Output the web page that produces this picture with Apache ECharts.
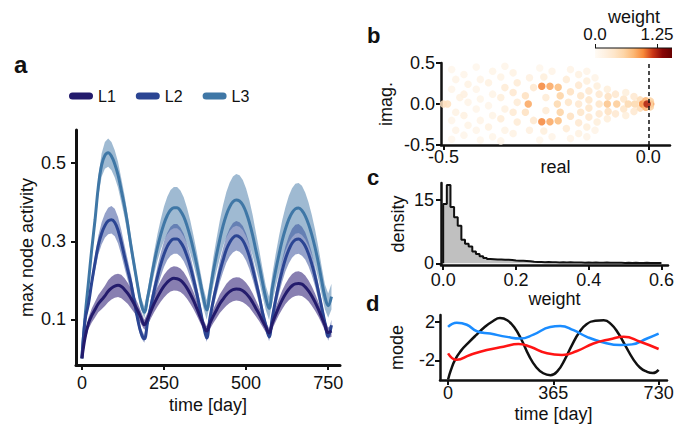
<!DOCTYPE html>
<html lang="en">
<head>
  <meta charset="UTF-8">
  <script src="https://cdn.jsdelivr.net/npm/echarts@6/dist/echarts.min.js"></script>
  <style>
    html, body { margin: 0; padding: 0; background: #fff; }
    #container { width: 697px; height: 428px; }
  </style>
</head>
<body>
  <div id="container"></div>
  <script>
    // ---- panel a : max node activity per layer (mean and half band width) ----
    var days = [0, 10, 20, 30, 40, 50, 60, 70, 80, 90, 100, 110, 120, 130, 140, 150, 160, 170, 180, 190,
      200, 210, 220, 230, 240, 250, 260, 270, 280, 290, 300, 310, 320, 330, 340, 350, 360, 370, 380,
      390, 400, 410, 420, 430, 440, 450, 460, 470, 480, 490, 500, 510, 520, 530, 540, 550, 560, 570,
      580, 590, 600, 610, 620, 630, 640, 650, 660, 670, 680, 690, 700, 710, 720, 730, 740, 750, 760];

    var l1Mean = [0, 0.055, 0.09, 0.11, 0.125, 0.14, 0.15, 0.16, 0.172, 0.18, 0.185, 0.187, 0.184, 0.176, 0.166, 0.153, 0.138, 0.122, 0.104, 0.086,
      0.101, 0.121, 0.14, 0.157, 0.172, 0.185, 0.195, 0.202, 0.205, 0.204, 0.2, 0.192, 0.18, 0.165, 0.148, 0.128, 0.107, 0.086, 0.07,
      0.09, 0.108, 0.124, 0.14, 0.152, 0.163, 0.171, 0.176, 0.178, 0.177, 0.173, 0.166, 0.156, 0.143, 0.128, 0.113, 0.096, 0.08, 0.065,
      0.09, 0.112, 0.132, 0.15, 0.165, 0.177, 0.186, 0.191, 0.192, 0.19, 0.183, 0.173, 0.16, 0.144, 0.126, 0.106, 0.085, 0.066, 0.07];
    var l1Half = [0, 0.01, 0.015, 0.018, 0.02, 0.022, 0.024, 0.026, 0.028, 0.029, 0.03, 0.03, 0.03, 0.029, 0.027, 0.025, 0.022, 0.019, 0.016, 0.013,
      0.016, 0.019, 0.022, 0.025, 0.027, 0.029, 0.03, 0.031, 0.031, 0.031, 0.03, 0.029, 0.027, 0.025, 0.022, 0.019, 0.016, 0.013, 0.012,
      0.015, 0.018, 0.021, 0.024, 0.026, 0.028, 0.029, 0.03, 0.03, 0.03, 0.029, 0.028, 0.026, 0.024, 0.021, 0.018, 0.015, 0.013, 0.012,
      0.015, 0.018, 0.021, 0.024, 0.026, 0.028, 0.03, 0.031, 0.031, 0.03, 0.029, 0.027, 0.025, 0.022, 0.019, 0.016, 0.014, 0.013, 0.015];

    var l2Mean = [0, 0.1, 0.14, 0.195, 0.245, 0.29, 0.32, 0.34, 0.352, 0.355, 0.348, 0.328, 0.297, 0.26, 0.225, 0.19, 0.145, 0.1, 0.065, 0.05,
      0.093, 0.134, 0.173, 0.209, 0.24, 0.267, 0.287, 0.3, 0.306, 0.306, 0.298, 0.284, 0.262, 0.235, 0.202, 0.166, 0.126, 0.085, 0.052,
      0.104, 0.148, 0.186, 0.222, 0.252, 0.279, 0.297, 0.309, 0.314, 0.311, 0.302, 0.285, 0.261, 0.23, 0.195, 0.159, 0.118, 0.085, 0.055,
      0.105, 0.15, 0.19, 0.225, 0.255, 0.278, 0.295, 0.304, 0.306, 0.3, 0.288, 0.268, 0.242, 0.21, 0.172, 0.132, 0.092, 0.056, 0.085];
    var l2Half = [0, 0.008, 0.012, 0.016, 0.02, 0.024, 0.028, 0.031, 0.034, 0.035, 0.035, 0.034, 0.032, 0.029, 0.026, 0.022, 0.018, 0.015, 0.012, 0.01,
      0.014, 0.018, 0.022, 0.026, 0.03, 0.033, 0.035, 0.037, 0.038, 0.038, 0.037, 0.035, 0.032, 0.029, 0.025, 0.021, 0.017, 0.013, 0.01,
      0.014, 0.019, 0.023, 0.027, 0.031, 0.034, 0.036, 0.038, 0.038, 0.038, 0.037, 0.035, 0.032, 0.028, 0.024, 0.02, 0.016, 0.012, 0.011,
      0.016, 0.021, 0.025, 0.029, 0.032, 0.035, 0.037, 0.038, 0.038, 0.037, 0.035, 0.032, 0.029, 0.025, 0.021, 0.017, 0.013, 0.011, 0.014];

    var l3Mean = [0, 0.11, 0.195, 0.28, 0.355, 0.44, 0.495, 0.52, 0.527, 0.518, 0.498, 0.47, 0.43, 0.389, 0.34, 0.285, 0.235, 0.185, 0.141, 0.118,
      0.155, 0.2, 0.245, 0.284, 0.317, 0.345, 0.366, 0.38, 0.386, 0.386, 0.378, 0.363, 0.34, 0.311, 0.277, 0.239, 0.197, 0.155, 0.124,
      0.17, 0.222, 0.265, 0.305, 0.34, 0.368, 0.388, 0.401, 0.406, 0.403, 0.393, 0.374, 0.348, 0.315, 0.276, 0.238, 0.195, 0.155, 0.128,
      0.18, 0.225, 0.265, 0.302, 0.332, 0.356, 0.373, 0.383, 0.385, 0.379, 0.365, 0.344, 0.317, 0.284, 0.245, 0.2, 0.158, 0.135, 0.158];
    var l3Half = [0, 0.008, 0.012, 0.016, 0.02, 0.025, 0.03, 0.034, 0.036, 0.036, 0.035, 0.033, 0.031, 0.028, 0.025, 0.022, 0.019, 0.017, 0.015, 0.015,
      0.019, 0.024, 0.029, 0.034, 0.039, 0.044, 0.048, 0.051, 0.053, 0.053, 0.052, 0.05, 0.046, 0.042, 0.037, 0.033, 0.029, 0.026, 0.025,
      0.03, 0.036, 0.042, 0.048, 0.053, 0.058, 0.062, 0.065, 0.066, 0.066, 0.064, 0.061, 0.057, 0.052, 0.046, 0.04, 0.035, 0.031, 0.03,
      0.036, 0.042, 0.047, 0.052, 0.056, 0.06, 0.063, 0.064, 0.064, 0.063, 0.06, 0.056, 0.051, 0.046, 0.041, 0.036, 0.032, 0.031, 0.033];

    var aXTicks = [0, 250, 500, 750];
    var aYTicks = [0.1, 0.3, 0.5];

    // ---- panel b : eigenvalues [real, imag, weight] ----
    var eigPoints = [
      [-0.5, 0, 0.45], [-0.49, 0, 0.45],
      [-0.48, 0.42, 0.1], [-0.47, 0.3, 0.15], [-0.48, 0.18, 0.12], [-0.46, 0.08, 0.2], [-0.47, -0.1, 0.18], [-0.48, -0.2, 0.12], [-0.47, -0.32, 0.15], [-0.48, -0.43, 0.1],
      [-0.45, 0.36, 0.12], [-0.44, 0.24, 0.18], [-0.45, 0.12, 0.22], [-0.44, 0.02, 0.15], [-0.45, -0.14, 0.2], [-0.44, -0.26, 0.16], [-0.45, -0.38, 0.12],
      [-0.42, 0.45, 0.1], [-0.41, 0.3, 0.15], [-0.42, 0.18, 0.12], [-0.41, 0.06, 0.14], [-0.42, -0.06, 0.12], [-0.41, -0.2, 0.15], [-0.42, -0.32, 0.12], [-0.41, -0.44, 0.1],
      [-0.38, 0.4, 0.14], [-0.39, 0.26, 0.2], [-0.38, 0.12, 0.16], [-0.39, -0.02, 0.12], [-0.38, -0.14, 0.16], [-0.39, -0.28, 0.2], [-0.38, -0.4, 0.14],
      [-0.35, 0.46, 0.12], [-0.36, 0.33, 0.16], [-0.35, 0.2, 0.3], [-0.36, 0.08, 0.25], [-0.35, -0.06, 0.2], [-0.36, -0.18, 0.28], [-0.35, -0.32, 0.16], [-0.36, -0.45, 0.12],
      [-0.33, 0.38, 0.18], [-0.32, 0.26, 0.3], [-0.33, 0.14, 0.35], [-0.32, 0.02, 0.3], [-0.33, -0.1, 0.32], [-0.32, -0.22, 0.3], [-0.33, -0.36, 0.18],
      [-0.3, 0.1, 0.45], [-0.3, -0.1, 0.45], [-0.29, 0.32, 0.22], [-0.29, -0.32, 0.22], [-0.28, 0.2, 0.35], [-0.28, -0.2, 0.35],
      [-0.25, 0.08, 0.3], [-0.25, -0.08, 0.3], [-0.255, 0.33, 0.25], [-0.255, -0.33, 0.25], [-0.235, 0.4, 0.15], [-0.235, -0.4, 0.15], [-0.265, 0.44, 0.1], [-0.265, -0.44, 0.1],
      [-0.215, 0.1, 0.6], [-0.215, -0.1, 0.6], [-0.222, 0, 0.55],
      [-0.2, 0.3, 0.3], [-0.2, -0.3, 0.3], [-0.19, 0.15, 0.45], [-0.19, -0.15, 0.45], [-0.195, 0.02, 0.4], [-0.19, 0.42, 0.15], [-0.19, -0.42, 0.15],
      [-0.17, 0.36, 0.2], [-0.17, -0.36, 0.2], [-0.17, 0.23, 0.35], [-0.17, -0.23, 0.35], [-0.165, 0.1, 0.4], [-0.165, -0.1, 0.4], [-0.17, 0, 0.35],
      [-0.15, 0.4, 0.15], [-0.15, -0.4, 0.15], [-0.15, 0.28, 0.25], [-0.15, -0.28, 0.25], [-0.145, 0.16, 0.35], [-0.145, -0.16, 0.35], [-0.145, 0.05, 0.4], [-0.145, -0.05, 0.4],
      [-0.125, 0.22, 0.25], [-0.125, -0.22, 0.25], [-0.12, 0.12, 0.35], [-0.12, -0.12, 0.35], [-0.12, 0, 0.4], [-0.13, 0.32, 0.15], [-0.13, -0.32, 0.15],
      [-0.1, 0.18, 0.25], [-0.1, -0.18, 0.25], [-0.098, 0.09, 0.45], [-0.098, -0.09, 0.45], [-0.1, 0, 0.7],
      [-0.08, 0.12, 0.35], [-0.08, -0.12, 0.35], [-0.077, 0, 0.65],
      [-0.06, 0.06, 0.4], [-0.06, -0.06, 0.4], [-0.055, 0.14, 0.25], [-0.055, -0.14, 0.25],
      [-0.049, 0, 0.55], [-0.033, 0, 0.55], [-0.035, 0.09, 0.35], [-0.035, -0.09, 0.35],
      [-0.02, 0.05, 0.5], [-0.02, -0.05, 0.5],
      [-0.293, 0, 0.85], [-0.22, 0.205, 0.75], [-0.22, -0.205, 0.75], [-0.24, 0.216, 0.85], [-0.24, -0.216, 0.85], [-0.26, 0.216, 0.98], [-0.26, -0.216, 0.98],
      [-0.014, 0, 0.95], [-0.006, 0.04, 0.8], [-0.006, -0.04, 0.8], [0.006, 0, 0.9], [0.005, 0.035, 0.6], [0.005, -0.035, 0.6], [-0.003, 0, 1.25]
    ];
    var weightColors = ['#fffbf5', '#fef1e2', '#fee6ca', '#fdd5a7', '#fcb875', '#f88a3a', '#cb3616', '#8a0707', '#680000'];

    // ---- panel c : histogram of weights ----
    var binEdges = [0, 0.01, 0.02, 0.03, 0.04, 0.05, 0.06, 0.07, 0.08, 0.09, 0.1, 0.11, 0.12, 0.13, 0.14, 0.15, 0.16, 0.17, 0.18, 0.19,
      0.2, 0.21, 0.22, 0.23, 0.24, 0.25, 0.26, 0.27, 0.28, 0.29, 0.3, 0.31, 0.32, 0.33, 0.34, 0.35, 0.36, 0.37, 0.38, 0.39,
      0.4, 0.41, 0.42, 0.43, 0.44, 0.45, 0.46, 0.47, 0.48, 0.49, 0.5, 0.51, 0.52, 0.53, 0.54, 0.55, 0.56, 0.57, 0.58, 0.59, 0.6];
    var density = [14.05, 18.5, 13.3, 10.9, 8.9, 5.6, 4.65, 4.0, 2.8, 2.2, 1.65, 1.25, 1.0, 0.95, 0.9, 0.9, 0.85, 0.85, 0.8, 0.65,
      0.6, 0.6, 0.55, 0.5, 0.35, 0.3, 0.3, 0.25, 0.3, 0.25, 0.25, 0.2, 0.25, 0.2, 0.25, 0.2, 0.2, 0.2, 0.15, 0.2,
      0.15, 0.2, 0.15, 0.15, 0.2, 0.15, 0.15, 0.15, 0.15, 0.1, 0.15, 0.1, 0.15, 0.1, 0.1, 0.15, 0.1, 0.1, 0.1, 0.1];

    // ---- panel d : modes over one two-year cycle ----
    var modeBlack = [[0, -4.0], [10, -3.0], [25, -1.9], [45, -1.0], [70, -0.2], [95, 0.55], [125, 1.4], [155, 2.05], [180, 2.38], [205, 2.15],
      [230, 1.4], [255, 0.1], [280, -1.5], [305, -2.7], [330, -3.35], [355, -3.55], [380, -3.1], [405, -1.9], [430, -0.4], [455, 0.9],
      [480, 1.75], [510, 2.1], [540, 2.15], [565, 1.75], [590, 0.8], [615, -0.5], [640, -1.8], [665, -2.75], [690, -3.2], [710, -3.33], [730, -3.0]];
    var modeBlue = [[0, 1.46], [30, 1.9], [65, 1.69], [100, 1.01], [146, 0.77], [204, 0.43], [250, 0.26], [296, 0.67], [354, 1.46], [389, 1.56],
      [435, 1.12], [481, 0.43], [539, -0.15], [597, -0.42], [638, -0.35], [690, 0.26], [730, 0.77]];
    var modeRed = [[0, -1.28], [30, -1.96], [76, -1.45], [134, -0.93], [192, -0.6], [244, -0.32], [285, -0.6], [343, -1.28], [395, -1.45],
      [447, -1.04], [504, -0.26], [562, 0.19], [609, 0.43], [666, -0.08], [730, -0.83]];

    var chart = echarts.init(document.getElementById('container'), null, { renderer: 'svg' });

    var FONT = 'Liberation Sans, Arial, sans-serif';
    var INK = '#111';

    function pairs(xs, ys) {
      return xs.map(function (x, i) { return [x, ys[i]]; });
    }

    function axisCommon(extra) {
      var base = {
        type: 'value',
        splitLine: { show: false },
        axisLine: { show: true, onZero: false, lineStyle: { color: INK, width: 2.5 } },
        axisTick: { show: true, length: 5, lineStyle: { color: INK, width: 2 } },
        axisLabel: { color: INK, fontSize: 18, fontFamily: FONT },
        nameLocation: 'middle',
        nameTextStyle: { color: INK, fontSize: 18, fontFamily: FONT },
        nameMoveOverlap: false
      };
      return echarts.util.merge(base, extra, true);
    }

    var layers = [
      { name: 'L3', mean: l3Mean, half: l3Half, line: '#3f77a6', band: 'rgba(64,118,166,0.5)' },
      { name: 'L2', mean: l2Mean, half: l2Half, line: '#2b4593', band: 'rgba(44,70,150,0.5)' },
      { name: 'L1', mean: l1Mean, half: l1Half, line: '#231b6c', band: 'rgba(50,35,120,0.58)' }
    ];

    var series = [];
    // shaded bands: one polygon per layer, upper edge out and lower edge back
    layers.forEach(function (L) {
      series.push({
        name: L.name + ' band', type: 'custom', xAxisIndex: 0, yAxisIndex: 0, silent: true,
        data: [[days[0], L.mean[0]]],
        renderItem: function (params, api) {
          var pts = [];
          for (var i = 0; i < days.length; i++) pts.push(api.coord([days[i], L.mean[i] + L.half[i]]));
          for (var j = days.length - 1; j >= 0; j--) pts.push(api.coord([days[j], L.mean[j] - L.half[j]]));
          return { type: 'polygon', shape: { points: pts }, style: { fill: L.band } };
        }
      });
    });
    layers.forEach(function (L) {
      series.push({
        name: L.name, type: 'line', xAxisIndex: 0, yAxisIndex: 0,
        smooth: 0.4, symbol: 'none',
        itemStyle: { color: L.line },
        lineStyle: { color: L.line, width: 3 },
        data: pairs(days, L.mean)
      });
    });

    var scatterIndex = series.length;
    series.push({
      name: 'eigen', type: 'scatter', xAxisIndex: 1, yAxisIndex: 1,
      symbolSize: 7.5,
      itemStyle: { opacity: 0.85 },
      data: eigPoints,
      markLine: {
        silent: true, symbol: 'none', label: { show: false },
        lineStyle: { type: [4, 3], color: INK, width: 1.5 },
        data: [{ xAxis: 0 }]
      }
    });

    var histData = [[0, 0]];
    for (var i = 0; i < density.length; i++) histData.push([binEdges[i], density[i]]);
    histData.push([binEdges[density.length], density[density.length - 1]]);
    histData.push([binEdges[density.length], 0]);
    series.push({
      name: 'hist', type: 'line', xAxisIndex: 2, yAxisIndex: 2,
      step: 'end', symbol: 'none',
      lineStyle: { color: INK, width: 2 },
      areaStyle: { color: '#c0c0c0', opacity: 1 },
      data: histData
    });

    [[modeBlack, '#111111'], [modeBlue, '#1a8cff'], [modeRed, '#ff1414']].forEach(function (m) {
      series.push({
        type: 'line', xAxisIndex: 3, yAxisIndex: 3, smooth: 0.5, symbol: 'none',
        lineStyle: { color: m[1], width: 2.5 }, data: m[0]
      });
    });

    var cbStops = weightColors.map(function (c, i) { return { offset: i / (weightColors.length - 1), color: c }; });

    var option = {
      animation: false,
      backgroundColor: '#fff',
      textStyle: { fontFamily: FONT },
      legend: {
        data: ['L1', 'L2', 'L3'],
        left: 64, top: 83,
        itemWidth: 24, itemHeight: 7, itemGap: 20,
        icon: 'path://M3.5,0 L20.5,0 A3.5,3.5 0 0 1 20.5,7 L3.5,7 A3.5,3.5 0 0 1 3.5,0 Z',
        textStyle: { color: INK, fontSize: 16, fontFamily: FONT }
      },
      visualMap: {
        type: 'continuous', show: false, seriesIndex: scatterIndex, dimension: 2,
        min: 0, max: 1.55, inRange: { color: weightColors }
      },
      grid: [
        { left: 76, top: 130, width: 264, height: 235 },
        { left: 441, top: 63, width: 229, height: 82 },
        { left: 441, top: 183, width: 227, height: 82 },
        { left: 440, top: 315, width: 227, height: 65 }
      ],
      xAxis: [
        axisCommon({
          gridIndex: 0, min: -18, max: 786, name: 'time [day]', nameGap: 31,
          axisLine: { lineStyle: { width: 3 } },
          axisTick: { customValues: aXTicks },
          axisLabel: { customValues: aXTicks, margin: 9 }
        }),
        axisCommon({
          gridIndex: 1, min: -0.506, max: 0.053, name: 'real', nameGap: 13,
          axisTick: { customValues: [-0.5, 0] },
          axisLabel: { customValues: [-0.5, 0], margin: 3, formatter: function (v) { return v.toFixed(1); } }
        }),
        axisCommon({
          gridIndex: 2, min: -0.006, max: 0.618, name: 'weight', nameGap: 25,
          axisTick: { customValues: [0, 0.2, 0.4, 0.6] },
          axisLabel: { customValues: [0, 0.2, 0.4, 0.6], margin: 6, formatter: function (v) { return v.toFixed(1); } }
        }),
        axisCommon({
          gridIndex: 3, min: -28, max: 759, name: 'time [day]', nameGap: 25,
          axisTick: { customValues: [0, 365, 730] },
          axisLabel: { customValues: [0, 365, 730], margin: 4 }
        })
      ],
      yAxis: [
        axisCommon({
          gridIndex: 0, min: -0.017, max: 0.585, name: 'max node activity', nameGap: 40,
          axisLine: { lineStyle: { width: 3 } },
          axisTick: { customValues: aYTicks },
          axisLabel: { customValues: aYTicks, margin: 10, formatter: function (v) { return v.toFixed(1); } }
        }),
        axisCommon({
          gridIndex: 1, min: -0.5, max: 0.5, interval: 0.5, name: 'imag.', nameGap: 46,
          axisLabel: { margin: 6, formatter: function (v) { return v.toFixed(1); } }
        }),
        axisCommon({
          gridIndex: 2, min: -0.4, max: 19, name: 'density', nameGap: 34,
          axisTick: { customValues: [0, 15] },
          axisLabel: { customValues: [0, 15], margin: 7 }
        }),
        axisCommon({
          gridIndex: 3, min: -4.05, max: 2.7, name: 'mode', nameGap: 34,
          axisTick: { customValues: [-2, 2] },
          axisLabel: { customValues: [-2, 2], margin: 5 }
        })
      ],
      graphic: [
        { type: 'text', left: 14, top: 52, style: { text: 'a', font: 'bold 24px ' + FONT, fill: INK } },
        { type: 'text', left: 367, top: 24, style: { text: 'b', font: 'bold 22px ' + FONT, fill: INK } },
        { type: 'text', left: 367, top: 166, style: { text: 'c', font: 'bold 22px ' + FONT, fill: INK } },
        { type: 'text', left: 366, top: 292, style: { text: 'd', font: 'bold 22px ' + FONT, fill: INK } },
        {
          type: 'rect', shape: { x: 595, y: 48, width: 77, height: 10 },
          style: { fill: new echarts.graphic.LinearGradient(0, 0, 1, 0, cbStops) }
        },
        { type: 'line', shape: { x1: 595, y1: 48, x2: 672, y2: 48 }, style: { stroke: INK, lineWidth: 1 } },
        { type: 'line', shape: { x1: 595.5, y1: 44, x2: 595.5, y2: 48 }, style: { stroke: INK, lineWidth: 1 } },
        { type: 'line', shape: { x1: 657.5, y1: 44, x2: 657.5, y2: 48 }, style: { stroke: INK, lineWidth: 1 } },
        { type: 'text', x: 595, y: 34, style: { text: '0.0', font: '17px ' + FONT, fill: INK, align: 'center', verticalAlign: 'middle' } },
        { type: 'text', x: 657, y: 34, style: { text: '1.25', font: '17px ' + FONT, fill: INK, align: 'center', verticalAlign: 'middle' } },
        { type: 'text', x: 634, y: 17, style: { text: 'weight', font: '18px ' + FONT, fill: INK, align: 'center', verticalAlign: 'middle' } }
      ],
      series: series
    };

    chart.setOption(option);
  </script>
</body>
</html>
